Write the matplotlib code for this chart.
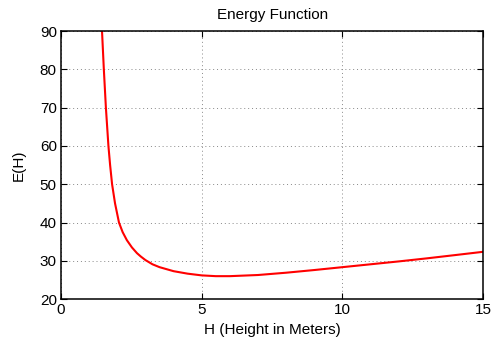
import matplotlib
matplotlib.use("Agg")
import matplotlib.pyplot as plt

# values
height = [1.457, 1.522, 1.595, 1.685, 1.745, 1.815, 1.92, 2.06, 2.19, 2.34,
          2.52, 2.70, 2.84, 3.0, 3.25, 3.5, 4.0, 4.5, 5.0, 5.5, 6.0, 7.0,
          8.0, 9.0, 10.0, 11.0, 12.0, 13.0, 14.0, 15.0]
energy = [90.0, 80.0, 70.0, 60.0, 55.0, 50.0, 45.0, 40.0, 37.5, 35.4,
          33.5, 32.0, 31.1, 30.2, 29.1, 28.35, 27.3, 26.65, 26.2, 26.0, 26.0, 26.3,
          26.9, 27.6, 28.35, 29.1, 29.85, 30.65, 31.5, 32.36]

xticks = [0, 5, 10, 15]
yticks = [20, 30, 40, 50, 60, 70, 80, 90]

plt.rcParams['font.family'] = ['Liberation Sans', 'DejaVu Sans']

fig = plt.figure(figsize=(4.92, 3.38), dpi=100)
ax = fig.add_axes([0.124, 0.115, 0.858, 0.793])

ax.plot(height, energy, color='red', linewidth=1.5)

ax.set_xlim(0, 15)
ax.set_ylim(20, 90)
ax.set_xticks(xticks)
ax.set_yticks(yticks)
ax.tick_params(direction='in', length=4, width=0.8, top=True, right=True,
               labelsize=11, pad=3)
ax.grid(True, linestyle=(0, (1, 3)), color='#888888', linewidth=0.7)
for s in ax.spines.values():
    s.set_linewidth(1.1)

ax.set_title('Energy Function', fontsize=11, pad=9)
ax.set_xlabel('H (Height in Meters)', fontsize=11, labelpad=4)
ax.set_ylabel('E(H)', fontsize=11, labelpad=10)

fig.savefig('out.png', dpi=100)
